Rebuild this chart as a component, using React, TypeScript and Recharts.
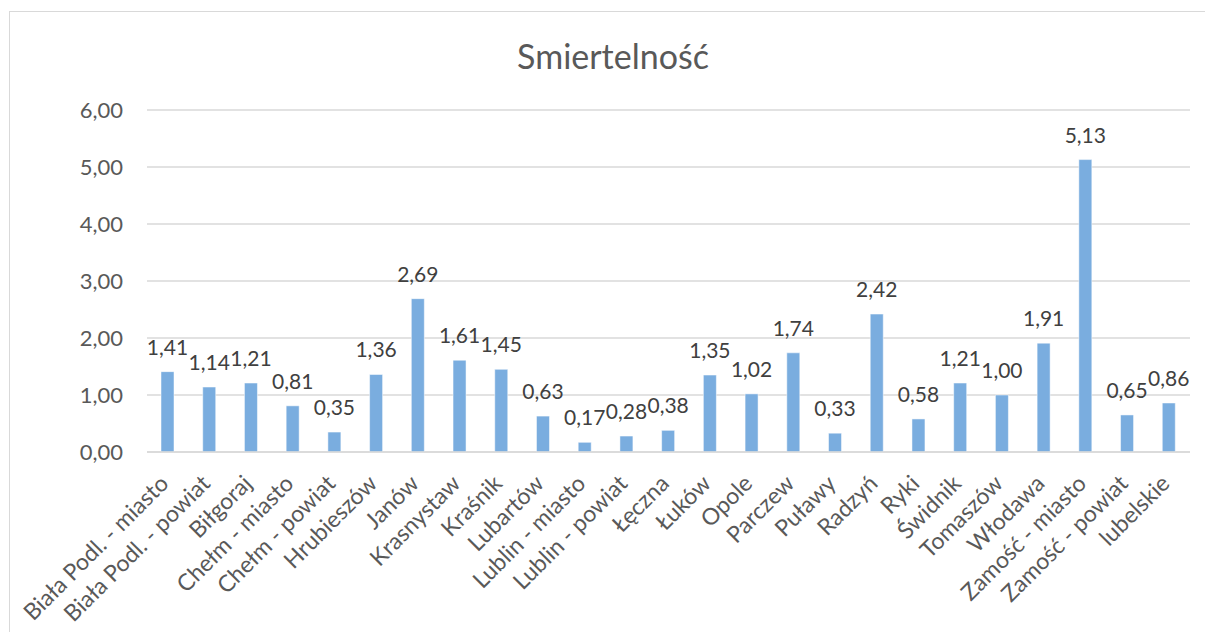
import { BarChart, Bar, XAxis, YAxis, CartesianGrid, LabelList } from 'recharts'

const powiaty = [
  'Biała Podl. - miasto',
  'Biała Podl. - powiat',
  'Biłgoraj',
  'Chełm - miasto',
  'Chełm - powiat',
  'Hrubieszów',
  'Janów',
  'Krasnystaw',
  'Kraśnik',
  'Lubartów',
  'Lublin - miasto',
  'Lublin - powiat',
  'Łęczna',
  'Łuków',
  'Opole',
  'Parczew',
  'Puławy',
  'Radzyń',
  'Ryki',
  'Świdnik',
  'Tomaszów',
  'Włodawa',
  'Zamość - miasto',
  'Zamość - powiat',
  'lubelskie',
]

const smiertelnosc = [
  1.41, 1.14, 1.21, 0.81, 0.35, 1.36, 2.69, 1.61, 1.45, 0.63, 0.17, 0.28, 0.38,
  1.35, 1.02, 1.74, 0.33, 2.42, 0.58, 1.21, 1.0, 1.91, 5.13, 0.65, 0.86,
]

const yTicks = [0, 1, 2, 3, 4, 5, 6]

const data = powiaty.map((name, i) => ({ name, value: smiertelnosc[i] }))

const FONT = 'Lato, "Open Sans", sans-serif'
const TEXT = '#595959'

const fmt = (v: number) => v.toFixed(2).replace('.', ',')

function RotatedTick(props: any) {
  const { x, y, payload } = props
  return (
    <g transform={`translate(${x + 2},${y + 25})`}>
      <text
        transform="rotate(-45)"
        textAnchor="end"
        fill={TEXT}
        fontSize={23}
        fontFamily={FONT}
      >
        {payload.value}
      </text>
    </g>
  )
}

export default function App() {
  return (
    <div
      style={{
        position: 'fixed',
        left: 0,
        top: 0,
        width: 1205,
        height: 632,
        overflow: 'hidden',
        background: '#fff',
      }}
    >
      <div
        style={{
          position: 'absolute',
          left: 9,
          top: 11,
          width: 1400,
          height: 1000,
          border: '1.5px solid #d9d9d9',
        }}
      />
      <div
        style={{
          position: 'absolute',
          left: 0,
          top: 36,
          width: 1226,
          textAlign: 'center',
          fontFamily: FONT,
          fontSize: 34,
          color: TEXT,
          lineHeight: '40px',
        }}
      >
        Smiertelność
      </div>
      <div style={{ position: 'absolute', left: 0, top: 0 }}>
        <BarChart
          width={1205}
          height={632}
          data={data}
          margin={{ top: 110, right: 15, left: 0, bottom: 0 }}
          barCategoryGap={0}
        >
          <CartesianGrid vertical={false} stroke="#d9d9d9" strokeWidth={1.5} />
          <XAxis
            dataKey="name"
            interval={0}
            height={180}
            tickLine={false}
            axisLine={{ stroke: '#d9d9d9', strokeWidth: 1.5 }}
            tick={<RotatedTick />}
          />
          <YAxis
            width={147}
            domain={[0, 6]}
            ticks={yTicks}
            tickFormatter={fmt}
            tickLine={false}
            axisLine={false}
            tickSize={0}
            tickMargin={24}
            tick={{ fill: TEXT, fontSize: 22, fontFamily: FONT }}
          />
          <Bar
            dataKey="value"
            fill="#7aaddf"
            stroke="#ffffff"
            strokeWidth={0.5}
            barSize={13}
            isAnimationActive={false}
          >
            <LabelList
              dataKey="value"
              position="top"
              offset={17}
              formatter={(v: any) => fmt(Number(v))}
              fill="#404040"
              fontSize={21}
              fontFamily={FONT}
            />
          </Bar>
        </BarChart>
      </div>
    </div>
  )
}
